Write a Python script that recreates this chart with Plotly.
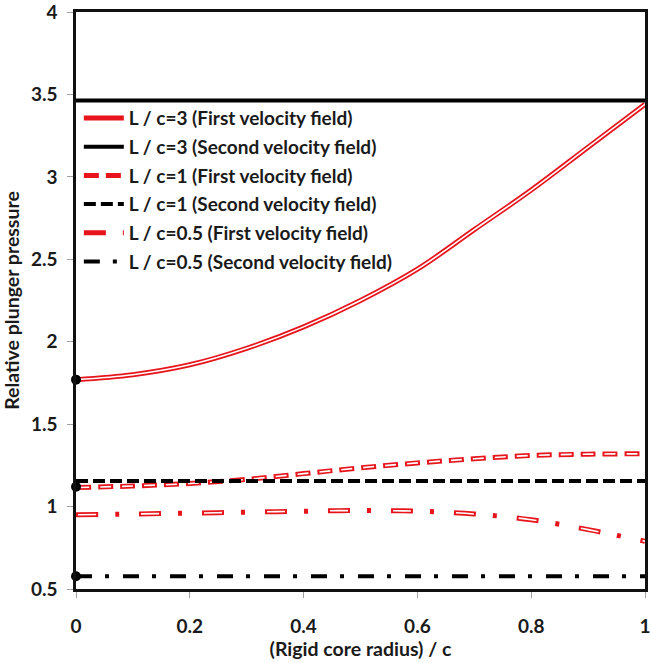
import plotly.graph_objects as go

# Relative core radius r/c
x = [0.0, 0.1, 0.2, 0.3, 0.4, 0.5, 0.6, 0.7, 0.8, 0.9, 1.0]

# First velocity field (upper bound) for each length ratio
p_first_L3 = [1.77, 1.80, 1.86, 1.96, 2.09, 2.25, 2.44, 2.68, 2.92, 3.18, 3.44]
p_first_L1 = [1.115, 1.125, 1.14, 1.165, 1.20, 1.235, 1.265, 1.29, 1.31, 1.318, 1.32]
p_first_L05 = [0.95, 0.955, 0.96, 0.966, 0.972, 0.976, 0.972, 0.955, 0.92, 0.86, 0.79]

# Second velocity field: independent of core radius
p_second_L3 = [3.464] * len(x)
p_second_L1 = [1.155] * len(x)
p_second_L05 = [0.577] * len(x)

# Values at r/c = 0
x_zero = [0.0, 0.0, 0.0]
p_zero = [1.77, 1.12, 0.577]

x_ticks = [0, 0.2, 0.4, 0.6, 0.8, 1]
x_ticktext = ["0", "0.2", "0.4", "0.6", "0.8", "1"]
y_ticks = [0.5, 1, 1.5, 2, 2.5, 3, 3.5, 4]
y_ticktext = ["0.5", "1", "1.5", "2", "2.5", "3", "3.5", "4"]

names = [
    "L / c=3 (First velocity field)",
    "L / c=3 (Second velocity field)",
    "L / c=1 (First velocity field)",
    "L / c=1 (Second velocity field)",
    "L / c=0.5 (First velocity field)",
    "L / c=0.5 (Second velocity field)",
]

RED = "#e8141b"
BLACK = "#000000"
FONT = "Lato"
TEXT = "#1a1a1a"

fig = go.Figure()


def double_line(y, name, outer_dash, inner_dash, group):
    """Red outlined line with a white core (double compound line)."""
    fig.add_trace(go.Scatter(
        x=x, y=y, mode="lines", name=name, legendgroup=group,
        line=dict(color=RED, width=5, dash=outer_dash, shape="spline"),
        hoverinfo="x+y",
    ))
    fig.add_trace(go.Scatter(
        x=x, y=y, mode="lines", showlegend=False, legendgroup=group,
        line=dict(color="white", width=1.6, dash=inner_dash, shape="spline"),
        hoverinfo="skip",
    ))


def single_line(y, name, dash, group):
    fig.add_trace(go.Scatter(
        x=x, y=y, mode="lines", name=name, legendgroup=group,
        line=dict(color=BLACK, width=4, dash=dash),
        hoverinfo="x+y",
    ))


double_line(p_first_L3, names[0], "solid", "solid", "g1")
single_line(p_second_L3, names[1], "solid", "g2")
double_line(p_first_L1, names[2], "15px,7px", "0px,2px,11px,9px", "g3")
single_line(p_second_L1, names[3], "12px,5px", "g4")
double_line(p_first_L05, names[4], "22px,17px,4px,20px", "0px,2px,18px,43px", "g5")
single_line(p_second_L05, names[5], "16px,13px,4px,14px", "g6")

fig.add_trace(go.Scatter(
    x=x_zero, y=p_zero, mode="markers", showlegend=False,
    marker=dict(color=BLACK, size=10), cliponaxis=False,
    hoverinfo="x+y",
))

tick_font = dict(family=FONT, size=19, color=TEXT, weight="bold")
title_font = dict(family=FONT, size=19.5, color=TEXT, weight="bold")

fig.update_layout(
    width=651, height=663,
    margin=dict(l=76, r=6, t=12, b=74, autoexpand=False),
    plot_bgcolor="white", paper_bgcolor="white",
    font=dict(family=FONT, size=19.5, color=TEXT),
    legend=dict(
        x=0.005, y=0.849, xanchor="left", yanchor="top",
        bgcolor="rgba(0,0,0,0)", borderwidth=0,
        font=dict(family=FONT, size=19, color=TEXT, weight="bold"),
        traceorder="grouped", tracegroupgap=1, itemwidth=40,
    ),
    xaxis=dict(
        range=[0, 1], tickmode="array", tickvals=x_ticks, ticktext=x_ticktext,
        showgrid=False, zeroline=False, automargin=False,
        showline=True, linecolor="#111111", linewidth=2.5, mirror=True,
        ticks="outside", ticklen=6, tickcolor="#a0a0a0", tickwidth=1,
        tickfont=tick_font, ticklabelstandoff=12, ticklabeloverflow="allow",
        title=dict(text="(Rigid core radius) / c", font=title_font, standoff=5),
    ),
    yaxis=dict(
        range=[0.5, 4.0001], tickmode="array", tickvals=y_ticks, ticktext=y_ticktext,
        showgrid=False, zeroline=False, automargin=False,
        showline=True, linecolor="#111111", linewidth=2.5, mirror=True,
        ticks="outside", ticklen=6, tickcolor="#a0a0a0", tickwidth=1,
        tickfont=tick_font, ticklabelstandoff=6, ticklabeloverflow="allow",
        title=dict(text="Relative plunger pressure", font=title_font, standoff=8),
    ),
)

fig.write_html("out.html")
